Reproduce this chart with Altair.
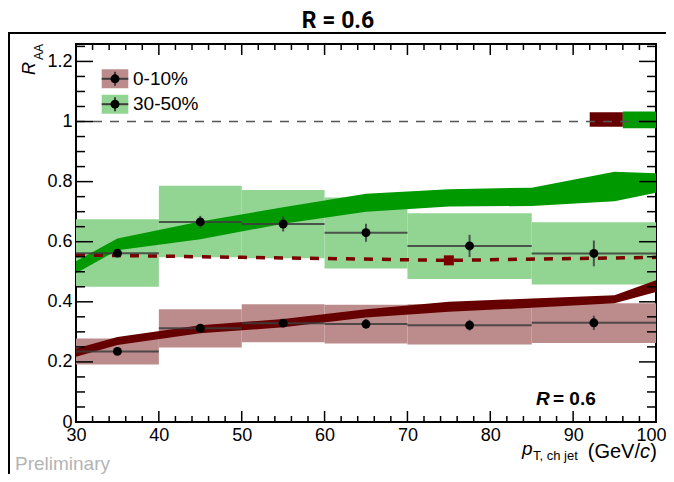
import altair as alt
import pandas as pd

# ---------------- data ----------------
bin_lo = [30, 40, 50, 60, 70, 85]
bin_hi = [40, 50, 60, 70, 85, 100]
bin_c = [35, 45, 55, 65, 77.5, 92.5]

c010_val = [0.235, 0.312, 0.329, 0.326, 0.322, 0.330]
c010_stat = [0.010, 0.012, 0.012, 0.016, 0.018, 0.024]
c010_sys_lo = [0.191, 0.248, 0.265, 0.261, 0.258, 0.263]
c010_sys_hi = [0.278, 0.375, 0.392, 0.390, 0.392, 0.395]

c3050_val = [0.562, 0.666, 0.659, 0.630, 0.586, 0.561]
c3050_stat = [0.008, 0.020, 0.025, 0.030, 0.037, 0.043]
c3050_sys_lo = [0.450, 0.548, 0.545, 0.511, 0.476, 0.458]
c3050_sys_hi = [0.675, 0.786, 0.772, 0.747, 0.695, 0.665]

theory_x = [30, 35, 45, 55, 65, 75, 85, 95, 100]
th010_lo = [0.217, 0.256, 0.295, 0.315, 0.348, 0.367, 0.380, 0.395, 0.433]
th010_hi = [0.245, 0.283, 0.322, 0.343, 0.375, 0.400, 0.411, 0.422, 0.472]
th3050_lo = [0.495, 0.572, 0.608, 0.660, 0.700, 0.717, 0.719, 0.735, 0.763]
th3050_hi = [0.535, 0.611, 0.667, 0.715, 0.760, 0.775, 0.780, 0.833, 0.828]

ratio_x = [30, 50, 75, 100]
ratio_y = [0.556, 0.548, 0.538, 0.548]
ratio_marker_x = [75]
ratio_marker_y = [0.538]

norm010_x = [92, 96]
norm010_y = [0.983, 1.031]
norm3050_x = [96, 100]
norm3050_y = [0.978, 1.033]

unity_x = [30, 100]
unity_y = [1, 1]

x_major = [30, 40, 50, 60, 70, 80, 90, 100]
x_minor = [v for v in range(30, 101, 2) if v % 10 != 0]
y_major = [0, 0.2, 0.4, 0.6, 0.8, 1.0, 1.2]
y_minor = [round(i * 0.05, 2) for i in range(0, 26) if i % 4 != 0]

# ---------------- styling ----------------
W, H = 580, 378
X_DOM = [30, 100]
Y_DOM = [0, 1.258]
LIGHT_RED = "#bc8c8c"
LIGHT_GREEN = "#92d492"
DARK_RED = "#660000"
DARK_GREEN = "#009900"
DASH_RED = "#7a0000"
BAR = "#3c3c3c"
FONT = "Liberation Sans"

xs = alt.Scale(domain=X_DOM, nice=False, zero=False)
ys = alt.Scale(domain=Y_DOM, nice=False, zero=False)
label_expr = "format(datum.value, '~g')"
AX = alt.Axis(values=x_major, title=None, grid=False, ticks=False, domain=False,
              labelFontSize=18, labelFont=FONT, labelColor="black", labelPadding=4,
              labelFlush=False, labelExpr=label_expr,
              labelAlign=alt.condition("datum.value == 100", alt.value("right"),
                                       alt.value("center")),
              labelOffset=alt.condition("datum.value == 100", alt.value(10),
                                        alt.value(0)))
AY = alt.Axis(values=y_major, title=None, grid=False, ticks=False, domain=False,
              labelFontSize=18, labelFont=FONT, labelColor="black", labelPadding=4,
              labelFlush=False, labelExpr=label_expr)


def X(f):
    return alt.X(f, scale=xs, axis=AX, title=None)


def Y(f):
    return alt.Y(f, scale=ys, axis=AY, title=None)


def meas_df(val, stat, slo, shi):
    d = pd.DataFrame({"lo": bin_lo, "hi": bin_hi, "c": bin_c, "val": val,
                      "stat": stat, "slo": slo, "shi": shi})
    d["elo"] = d["val"] - d["stat"]
    d["ehi"] = d["val"] + d["stat"]
    return d


m010 = meas_df(c010_val, c010_stat, c010_sys_lo, c010_sys_hi)
m3050 = meas_df(c3050_val, c3050_stat, c3050_sys_lo, c3050_sys_hi)
t010 = pd.DataFrame({"x": theory_x, "lo": th010_lo, "hi": th010_hi})
t3050 = pd.DataFrame({"x": theory_x, "lo": th3050_lo, "hi": th3050_hi})
ratio = pd.DataFrame({"x": ratio_x, "y": ratio_y})
ratio_m = pd.DataFrame({"x": ratio_marker_x, "y": ratio_marker_y})
n010 = pd.DataFrame({"lo": [norm010_x[0]], "hi": [norm010_x[1]],
                     "ylo": [norm010_y[0]], "yhi": [norm010_y[1]]})
n3050 = pd.DataFrame({"lo": [norm3050_x[0]], "hi": [norm3050_x[1]],
                      "ylo": [norm3050_y[0]], "yhi": [norm3050_y[1]]})
unity = pd.DataFrame({"x": unity_x, "y": unity_y})


def boxes(d, color):
    return alt.Chart(d).mark_rect(color=color, opacity=1).encode(
        x=X("lo:Q"), x2="hi:Q", y=Y("slo:Q"), y2="shi:Q")


def normbox(d, color):
    return alt.Chart(d).mark_rect(color=color, opacity=1).encode(
        x=X("lo:Q"), x2="hi:Q", y=Y("ylo:Q"), y2="yhi:Q")


def band(d, color):
    return alt.Chart(d).mark_area(color=color, opacity=1, interpolate="linear").encode(
        x=X("x:Q"), y=Y("lo:Q"), y2="hi:Q")


def errs(d):
    h = alt.Chart(d).mark_rule(color=BAR, strokeWidth=2, opacity=0.85).encode(
        x=X("lo:Q"), x2="hi:Q", y=Y("val:Q"))
    v = alt.Chart(d).mark_rule(color=BAR, strokeWidth=2, opacity=0.85).encode(
        x=X("c:Q"), y=Y("elo:Q"), y2="ehi:Q")
    p = alt.Chart(d).mark_circle(color="black", size=80, opacity=1).encode(
        x=X("c:Q"), y=Y("val:Q"))
    return [h, v, p]


unity_line = alt.Chart(unity).mark_line(color="#555555", strokeWidth=1.3,
                                         strokeDash=[9, 8]).encode(x=X("x:Q"), y=Y("y:Q"))
ratio_line = alt.Chart(ratio).mark_line(color=DASH_RED, strokeWidth=3.5,
                                         strokeDash=[9, 9]).encode(x=X("x:Q"), y=Y("y:Q"))
ratio_mark = alt.Chart(ratio_m).mark_square(color=DASH_RED, size=100, opacity=1).encode(
    x=X("x:Q"), y=Y("y:Q"))


# inward ticks on all four sides
def xticks(vals, length):
    d = pd.DataFrame({"v": vals})
    b = alt.Chart(d).mark_rule(color="black", strokeWidth=1.5).encode(
        x=X("v:Q"), y=alt.value(H), y2=alt.value(H - length))
    t = alt.Chart(d).mark_rule(color="black", strokeWidth=1.5).encode(
        x=X("v:Q"), y=alt.value(0), y2=alt.value(length))
    return [b, t]


def yticks(vals, length):
    d = pd.DataFrame({"v": vals})
    l = alt.Chart(d).mark_rule(color="black", strokeWidth=1.5).encode(
        y=Y("v:Q"), x=alt.value(0), x2=alt.value(length))
    r = alt.Chart(d).mark_rule(color="black", strokeWidth=1.5).encode(
        y=Y("v:Q"), x=alt.value(W), x2=alt.value(W - length))
    return [l, r]


ticks = xticks(x_major, 11) + xticks(x_minor, 6) + yticks(y_major, 17) + yticks(y_minor, 9)

one = pd.DataFrame({"a": [0]})


def txt(s, x, y, size=18, font=FONT, **kw):
    return alt.Chart(one).mark_text(text=s, fontSize=size, font=font, **kw).encode(
        x=alt.value(x), y=alt.value(y))


def rule(x1, x2, y1, y2, color="black", w=2):
    return alt.Chart(one).mark_rule(color=color, strokeWidth=w).encode(
        x=alt.value(x1), x2=alt.value(x2), y=alt.value(y1), y2=alt.value(y2))


def rect(x1, x2, y1, y2, color):
    return alt.Chart(one).mark_rect(color=color, opacity=1).encode(
        x=alt.value(x1), x2=alt.value(x2), y=alt.value(y1), y2=alt.value(y2))


def dot(x, y):
    return alt.Chart(one).mark_circle(color="black", size=80, opacity=1).encode(
        x=alt.value(x), y=alt.value(y))


legend = []
for (label, color, yc) in [("0-10%", LIGHT_RED, 34.8), ("30-50%", LIGHT_GREEN, 60.2)]:
    legend += [
        rect(25.7, 52.3, yc - 9.5, yc + 9.5, color),
        rule(25.7, 52.3, yc, yc, BAR, 2),
        rule(39, 39, yc - 7, yc + 7, BAR, 2),
        dot(39, yc),
        txt(label, 57, yc, 19, align="left", baseline="middle"),
    ]

texts = [
    txt("R = 0.6", 262, -16, 23, font="Roboto", align="center", baseline="alphabetic",
        fontWeight="bold"),
    txt("R", -41, 31, 18, align="left", baseline="alphabetic", angle=270, fontStyle="italic"),
    txt("AA", -33, 16, 12, align="left", baseline="alphabetic", angle=270),
    txt("p", 446, 411, 19, align="left", baseline="alphabetic", fontStyle="italic"),
    txt("T, ch jet", 457, 416, 13, align="left", baseline="alphabetic"),
    txt("(GeV/", 564, 414, 20, align="right", baseline="alphabetic"),
    txt("c", 574, 414, 20, align="right", baseline="alphabetic", fontStyle="italic"),
    txt(")", 581, 414, 20, align="right", baseline="alphabetic"),
    txt("R", 460, 361, 19, align="left", baseline="alphabetic", fontStyle="italic",
        fontWeight="bold"),
    txt("= 0.6", 477, 361, 19, align="left", baseline="alphabetic", fontWeight="bold"),
    txt("Preliminary", -61, 426, 19, align="left", baseline="alphabetic", color="#b4b4b4"),
]

frame_lines = [
    rule(-68, 590, -11, -11, "black", 2),
    rule(-67, -67, -11, 430, "black", 2),
]

chart = alt.layer(
    boxes(m010, LIGHT_RED), boxes(m3050, LIGHT_GREEN),
    normbox(n010, DARK_RED), normbox(n3050, DARK_GREEN),
    unity_line,
    band(t010, DARK_RED), band(t3050, DARK_GREEN),
    ratio_line, ratio_mark,
    *errs(m010), *errs(m3050),
    *ticks, *legend, *texts, *frame_lines,
).properties(
    width=W, height=H,
    padding={"left": 68, "top": 36, "right": 10, "bottom": 52},
    autosize=alt.AutoSizeParams(type="none"),
).configure_view(stroke="black", strokeWidth=2)

chart.save("out.html", embed_options={"renderer": "svg", "actions": False})
